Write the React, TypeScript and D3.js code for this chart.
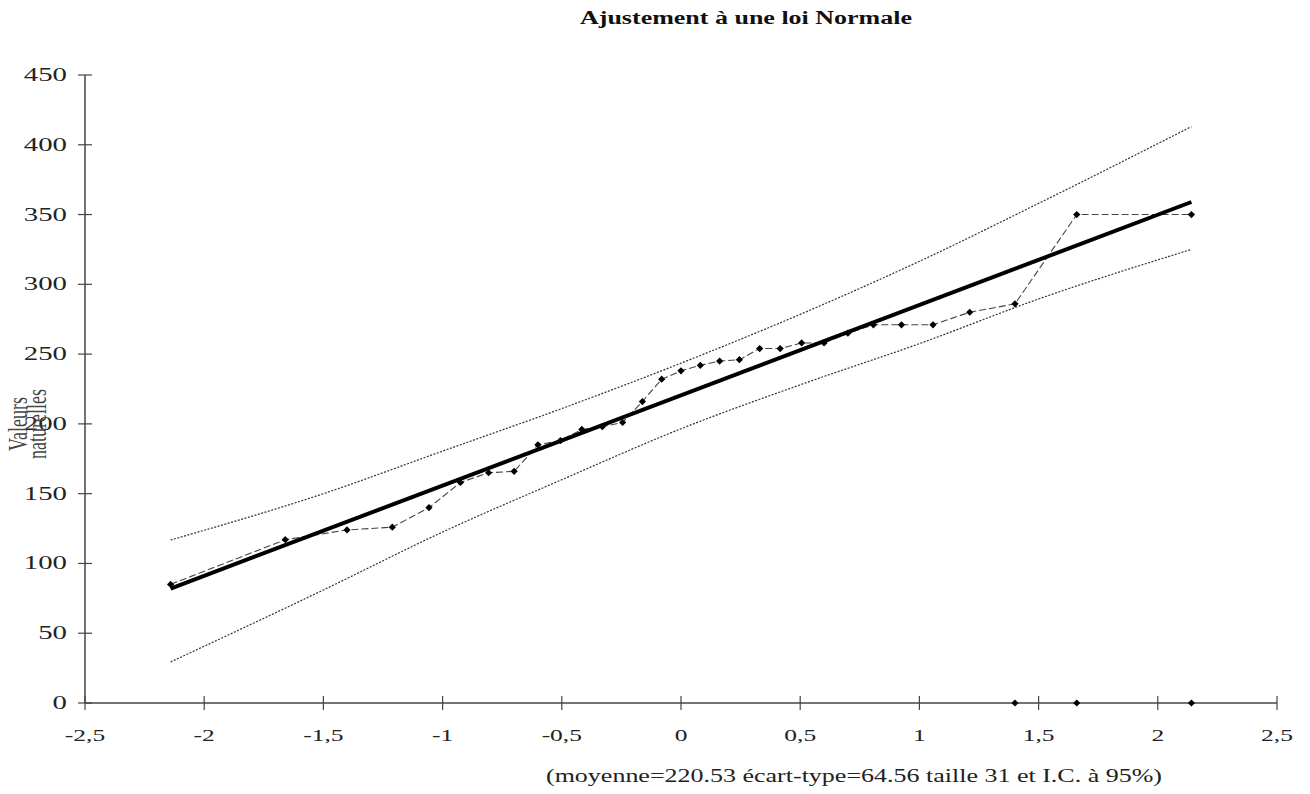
import React, { useEffect, useRef } from 'react'
import * as d3 from 'd3'

// normal scores (i - 0.5) / n for the 31 sorted observations
const quantiles = [
  -2.141, -1.66, -1.401, -1.211, -1.057, -0.925, -0.807, -0.7, -0.6, -0.506, -0.416,
  -0.33, -0.245, -0.162, -0.081, 0, 0.081, 0.162, 0.245, 0.33, 0.416, 0.506, 0.6,
  0.7, 0.807, 0.925, 1.057, 1.211, 1.401, 1.66, 2.141,
]
const values = [
  85, 117, 124, 126, 140, 158, 165, 166, 185, 188, 196, 198, 201, 216, 232, 238,
  242, 245, 246, 254, 254, 258, 258, 265, 271, 271, 271, 280, 286, 350, 350,
]

// fitted normal line
const fitZ = [-2.141, 2.141]
const fitValues = [82, 359]

// 95% confidence band
const bandZ = [-2.141, -1.5, -1, -0.5, 0, 0.5, 1, 1.5, 2.141]
const bandUpper = [116.8, 150, 180.5, 211, 243.5, 278.5, 316.5, 358, 413]
const bandLower = [29.4, 81, 122.5, 160, 196.5, 228, 257.5, 289.5, 325]

// markers lying on the axis
const zeroZ = [1.401, 1.66, 2.141]
const zeroValues = [0, 0, 0]

const xTicks = [-2.5, -2, -1.5, -1, -0.5, 0, 0.5, 1, 1.5, 2, 2.5]
const yTicks = [0, 50, 100, 150, 200, 250, 300, 350, 400, 450]

const title = 'Ajustement à une loi Normale'
const caption = '(moyenne=220.53 écart-type=64.56 taille 31 et I.C. à 95%)'

const W = 1310
const H = 794
const FONT = '"Liberation Serif", "Times New Roman", serif'

export default function App() {
  const ref = useRef<SVGSVGElement>(null)

  useEffect(() => {
    const svg = d3.select(ref.current)
    svg.selectAll('*').remove()

    const x = d3.scaleLinear().domain([-2.5, 2.5]).range([85, 1277])
    const y = d3.scaleLinear().domain([0, 450]).range([703, 75])

    const axisColor = '#444'

    // axes
    svg.append('line')
      .attr('x1', x(-2.5)).attr('x2', x(-2.5))
      .attr('y1', y(450)).attr('y2', y(0))
      .attr('stroke', axisColor).attr('stroke-width', 1.5)
    svg.append('line')
      .attr('x1', x(-2.5)).attr('x2', x(2.5))
      .attr('y1', y(0)).attr('y2', y(0))
      .attr('stroke', axisColor).attr('stroke-width', 1.5)

    svg.append('g').selectAll('line')
      .data(yTicks)
      .enter().append('line')
      .attr('x1', x(-2.5) - 7).attr('x2', x(-2.5) + 7)
      .attr('y1', d => y(d)).attr('y2', d => y(d))
      .attr('stroke', axisColor).attr('stroke-width', 1.2)

    svg.append('g').selectAll('line')
      .data(xTicks)
      .enter().append('line')
      .attr('x1', d => x(d)).attr('x2', d => x(d))
      .attr('y1', y(0) - 7).attr('y2', y(0) + 7)
      .attr('stroke', axisColor).attr('stroke-width', 1.2)

    svg.append('g').selectAll('text')
      .data(yTicks)
      .enter().append('text')
      .attr('transform', d => 'translate(67,' + (y(d) + 6) + ') scale(1.6,1)')
      .attr('text-anchor', 'end')
      .style('font-family', FONT).style('font-size', '18px').style('fill', '#222')
      .text(d => String(d))

    svg.append('g').selectAll('text')
      .data(xTicks)
      .enter().append('text')
      .attr('transform', d => 'translate(' + x(d) + ',741) scale(1.5,1)')
      .attr('text-anchor', 'middle')
      .style('font-family', FONT).style('font-size', '17px').style('fill', '#222')
      .text(d => String(d).replace('.', ','))

    // confidence band
    const band = d3.line<number>()
      .x((_, i) => x(bandZ[i]))
      .y(d => y(d))
      .curve(d3.curveMonotoneX)
    ;[bandUpper, bandLower].forEach(b => {
      svg.append('path')
        .attr('d', band(b))
        .attr('fill', 'none')
        .attr('stroke', '#333').attr('stroke-width', 1.2)
        .attr('stroke-dasharray', '2,1.5')
    })

    // observations
    const obs = d3.line<number>()
      .x((_, i) => x(quantiles[i]))
      .y(d => y(d))
    svg.append('path')
      .attr('d', obs(values))
      .attr('fill', 'none')
      .attr('stroke', '#444').attr('stroke-width', 1.1)
      .attr('stroke-dasharray', '7,3')

    // fitted line
    svg.append('path')
      .attr('d', d3.line<number>().x((_, i) => x(fitZ[i])).y(d => y(d))(fitValues))
      .attr('fill', 'none')
      .attr('stroke', '#000').attr('stroke-width', 4)

    const marker = d3.symbol().type(d3.symbolSquare).size(26)
    svg.append('g').selectAll('path')
      .data(values)
      .enter().append('path')
      .attr('d', marker())
      .attr('transform', (d, i) => 'translate(' + x(quantiles[i]) + ',' + y(d) + ') rotate(45)')
      .attr('fill', '#000')

    svg.append('g').selectAll('path')
      .data(zeroValues)
      .enter().append('path')
      .attr('d', marker())
      .attr('transform', (d, i) => 'translate(' + x(zeroZ[i]) + ',' + y(d) + ') rotate(45)')
      .attr('fill', '#000')

    // texts
    svg.append('text')
      .attr('x', 580).attr('y', 24)
      .attr('textLength', 332).attr('lengthAdjust', 'spacingAndGlyphs')
      .style('font-family', FONT).style('font-size', '18px').style('font-weight', 'bold')
      .style('fill', '#111')
      .text(title)

    svg.append('text')
      .attr('x', 546).attr('y', 782)
      .attr('textLength', 616).attr('lengthAdjust', 'spacingAndGlyphs')
      .style('font-family', FONT).style('font-size', '18px').style('fill', '#222')
      .text(caption)

    ;[['Valeurs', 27], ['naturelles', 46]].forEach(([t, px]) => {
      svg.append('text')
        .attr('transform', 'translate(' + px + ',424) rotate(-90) scale(1,1.5)')
        .attr('text-anchor', 'middle')
        .style('font-family', FONT).style('font-size', '18px').style('fill', '#444')
        .text(t as string)
    })
  }, [])

  return (
    <div>
      <svg ref={ref} width={W} height={H}
        style={{ position: 'absolute', left: 0, top: 0, background: '#fff' }} />
    </div>
  )
}
